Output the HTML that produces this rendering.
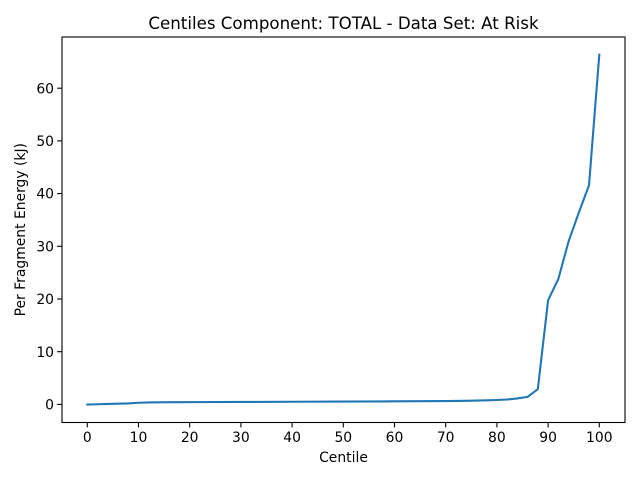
<!DOCTYPE html>
<html><head><meta charset="utf-8"><style>
html,body{margin:0;padding:0;background:#fff;}
svg{display:block;}
text{font-family:"DejaVu Sans","Liberation Sans",sans-serif;fill:#000;}
</style></head><body>
<svg width="640" height="480" viewBox="0 0 640 480" xmlns="http://www.w3.org/2000/svg">
<rect width="640" height="480" fill="#fff"/>
<text x="343.5" y="29" font-size="16.67" text-anchor="middle">Centiles Component: TOTAL - Data Set: At Risk</text>
<polyline fill="none" stroke="#1f77b4" stroke-width="2.1" stroke-linejoin="round" stroke-linecap="square" points="
87.3,404.5 97.5,404.24 107.8,403.97 118.0,403.7 128.3,403.45 138.5,402.76 148.7,402.4 159.0,402.3 169.2,402.2 179.5,402.15 189.7,402.13 240.9,401.97 292.1,401.76 343.3,401.6 394.5,401.34 445.7,401.07 455.9,400.9 466.1,400.8 476.4,400.6 486.6,400.3 496.9,400.0 507.1,399.5 517.3,398.4 527.6,396.86 537.8,389.2 548.1,300.2 558.3,279.1 568.5,241.7 578.8,212.7 589.0,185.3 599.3,54.6"/>
<rect x="62" y="37" width="563" height="385.5" fill="none" stroke="#000" stroke-width="1.1"/>
<g stroke="#000" stroke-width="1.1">
<line x1="87.3" y1="422.5" x2="87.3" y2="427.4"/>
<line x1="138.5" y1="422.5" x2="138.5" y2="427.4"/>
<line x1="189.7" y1="422.5" x2="189.7" y2="427.4"/>
<line x1="240.9" y1="422.5" x2="240.9" y2="427.4"/>
<line x1="292.1" y1="422.5" x2="292.1" y2="427.4"/>
<line x1="343.3" y1="422.5" x2="343.3" y2="427.4"/>
<line x1="394.5" y1="422.5" x2="394.5" y2="427.4"/>
<line x1="445.7" y1="422.5" x2="445.7" y2="427.4"/>
<line x1="496.9" y1="422.5" x2="496.9" y2="427.4"/>
<line x1="548.1" y1="422.5" x2="548.1" y2="427.4"/>
<line x1="599.3" y1="422.5" x2="599.3" y2="427.4"/>
<line x1="62" y1="404.4" x2="57.1" y2="404.4"/>
<line x1="62" y1="351.7" x2="57.1" y2="351.7"/>
<line x1="62" y1="299.0" x2="57.1" y2="299.0"/>
<line x1="62" y1="246.3" x2="57.1" y2="246.3"/>
<line x1="62" y1="193.6" x2="57.1" y2="193.6"/>
<line x1="62" y1="140.9" x2="57.1" y2="140.9"/>
<line x1="62" y1="88.2" x2="57.1" y2="88.2"/>
</g>
<g font-size="13.9" text-anchor="middle">
<text x="87.3" y="442">0</text>
<text x="138.5" y="442">10</text>
<text x="189.7" y="442">20</text>
<text x="240.9" y="442">30</text>
<text x="292.1" y="442">40</text>
<text x="343.3" y="442">50</text>
<text x="394.5" y="442">60</text>
<text x="445.7" y="442">70</text>
<text x="496.9" y="442">80</text>
<text x="548.1" y="442">90</text>
<text x="599.3" y="442">100</text>
</g>
<g font-size="13.9" text-anchor="end">
<text x="54" y="409.5">0</text>
<text x="54" y="356.8">10</text>
<text x="54" y="304.1">20</text>
<text x="54" y="251.4">30</text>
<text x="54" y="198.7">40</text>
<text x="54" y="146.0">50</text>
<text x="54" y="93.3">60</text>
</g>
<text x="343.5" y="462" font-size="13.9" text-anchor="middle">Centile</text>
<text transform="translate(25,229.7) rotate(-90)" font-size="13.9" text-anchor="middle">Per Fragment Energy (kJ)</text>
</svg>
</body></html>
